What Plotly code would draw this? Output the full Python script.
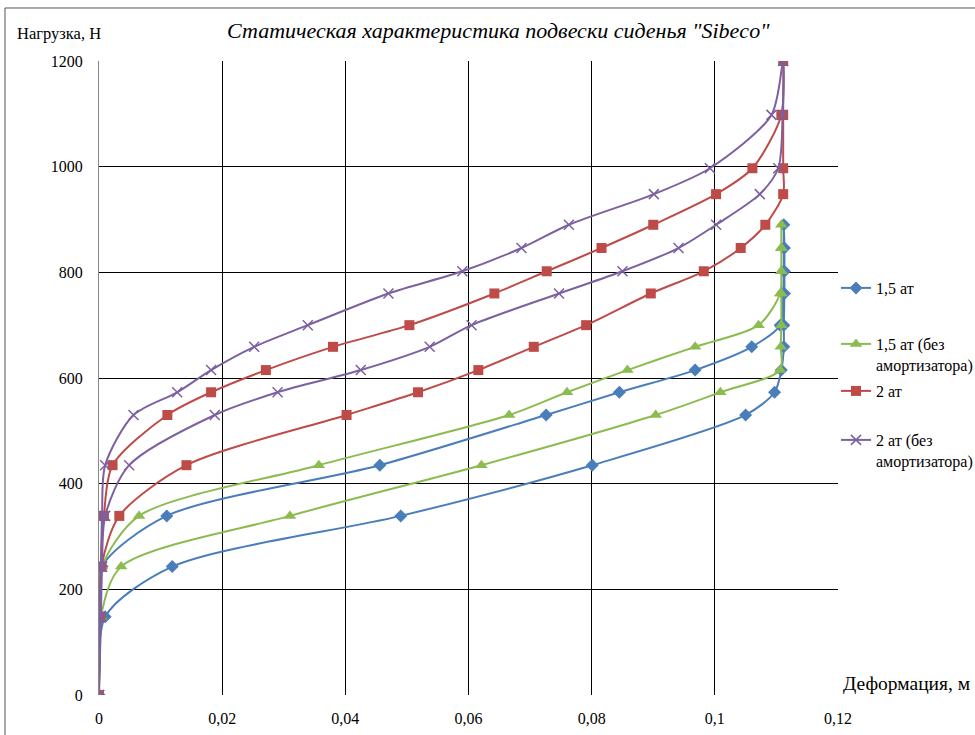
import plotly.graph_objects as go

# Loads (N) along each loop: up the left branch, then down the right branch
loads_15_up = [0, 148, 243, 339, 435, 530, 573, 615, 659, 700, 760, 802, 846, 890]
loads_15_down = [846, 802, 760, 700, 659, 615, 573, 530, 435, 339, 243, 148, 0]
loads_2_up = [0, 148, 243, 339, 435, 530, 573, 615, 659, 700, 760, 802, 846, 890, 948, 997, 1098, 1200]
loads_2_down = [1098, 997, 948, 890, 846, 802, 760, 700, 659, 615, 573, 530, 435, 339, 243, 148, 0]

# Deformation (m)
def_15_up = [0, 0.0003, 0.0005, 0.011, 0.0456, 0.0726, 0.0845, 0.0968, 0.106, 0.1106, 0.1111, 0.1112, 0.1112, 0.1112]
def_15_down = [0.1113, 0.1113, 0.1113, 0.1112, 0.1112, 0.1108, 0.1097, 0.105, 0.0801, 0.049, 0.0119, 0.001, 0]

def_15b_up = [0, 0.0002, 0.0005, 0.0065, 0.0357, 0.0666, 0.076, 0.0858, 0.0968, 0.1071, 0.1106, 0.1108, 0.1108, 0.1108]
def_15b_down = [0.1108, 0.1108, 0.1108, 0.1108, 0.1107, 0.1106, 0.1009, 0.0904, 0.0621, 0.031, 0.0036, 0.0003, 0]

def_2_up = [0, 0.0002, 0.0003, 0.0008, 0.0022, 0.0111, 0.0182, 0.0271, 0.038, 0.0504, 0.0642, 0.0727, 0.0816, 0.09, 0.1002, 0.1061, 0.1108, 0.1111]
def_2_down = [0.1111, 0.1111, 0.1111, 0.1082, 0.1042, 0.0982, 0.0896, 0.0791, 0.0706, 0.0616, 0.0518, 0.0402, 0.0142, 0.0033, 0.0004, 0.0002, 0]

def_2b_up = [0, 0.0001, 0.0003, 0.0005, 0.001, 0.0056, 0.0127, 0.0182, 0.0252, 0.0339, 0.047, 0.059, 0.0686, 0.0763, 0.0901, 0.0992, 0.1092, 0.1111]
def_2b_down = [0.111, 0.1103, 0.1073, 0.1002, 0.0941, 0.085, 0.0747, 0.0605, 0.0537, 0.0425, 0.029, 0.0188, 0.0049, 0.001, 0.0005, 0.0003, 0]

series_names = ["1,5 ат", "1,5 ат (без<br>амортизатора)", "2 ат", "2 ат (без<br>амортизатора)"]
x_ticks = [0, 0.02, 0.04, 0.06, 0.08, 0.1, 0.12]
x_tick_text = ["0", "0,02", "0,04", "0,06", "0,08", "0,1", "0,12"]
y_ticks = [0, 200, 400, 600, 800, 1000, 1200]
y_tick_text = ["0", "200", "400", "600", "800", "1000", "1200"]

series = [
    (def_15_up + def_15_down, loads_15_up + loads_15_down, "#4A7EBB", "diamond", 10, 0),
    (def_15b_up + def_15b_down, loads_15_up + loads_15_down, "#8CBB50", "triangle-up", 11, 0),
    (def_2_up + def_2_down, loads_2_up + loads_2_down, "#BE4B48", "square", 10, 0),
    (def_2b_up + def_2b_down, loads_2_up + loads_2_down, "#7D60A0", "x-thin", 10, 1.5),
]

serif = "Liberation Serif"
legend_keys = ["legend", "legend2", "legend3", "legend4"]
legend_tops = [271, 327, 374, 423]

fig = go.Figure()
for i, (xs, ys, col, sym, sz, lw) in enumerate(series):
    fig.add_trace(go.Scatter(
        x=xs, y=ys, name=series_names[i], mode="lines+markers",
        legend=legend_keys[i],
        line=dict(color=col, width=2, shape="spline", smoothing=0.8),
        marker=dict(symbol=sym, size=sz, color=col, line=dict(color=col, width=lw)),
    ))

legend_common = dict(xref="container", yref="container", x=836 / 975,
                     xanchor="left", yanchor="top", valign="top",
                     font=dict(family=serif, size=16, color="black"),
                     itemwidth=30, bgcolor="rgba(0,0,0,0)")
legend_layout = {}
for key, top in zip(legend_keys, legend_tops):
    legend_layout[key] = dict(legend_common, y=1 - top / 735)

fig.update_layout(
    width=975, height=735,
    margin=dict(l=99, r=137, t=61, b=40, autoexpand=False),
    paper_bgcolor="white", plot_bgcolor="white",
    font=dict(family=serif, size=15, color="black"),
    showlegend=True,
    xaxis=dict(range=[0, 0.12], tickvals=x_ticks, ticktext=x_tick_text,
               showgrid=True, gridcolor="black", gridwidth=1, zeroline=False,
               showline=False, ticks="", ticklabelstandoff=12, automargin=False,
               tickfont=dict(family=serif, size=16)),
    yaxis=dict(range=[0, 1200], tickvals=y_ticks, ticktext=y_tick_text,
               showgrid=True, gridcolor="black", gridwidth=1, zeroline=False,
               showline=True, linecolor="#888888", linewidth=1, ticks="",
               ticklabelstandoff=12, automargin=False,
               tickfont=dict(family=serif, size=16)),
    annotations=[
        dict(text="Статическая характеристика подвески сиденья \"Sibeco\"",
             xref="paper", yref="paper", x=0.541, y=1.025, xanchor="center", yanchor="bottom",
             showarrow=False, font=dict(family=serif, size=22, color="black", style="italic")),
        dict(text="Нагрузка, Н", xref="paper", yref="paper", x=-0.114, y=1.025,
             xanchor="left", yanchor="bottom", showarrow=False,
             font=dict(family=serif, size=16.5, color="black")),
        dict(text="Деформация, м", xref="paper", yref="paper", x=1.004, y=-0.002,
             xanchor="left", yanchor="bottom", showarrow=False,
             font=dict(family=serif, size=19.5, color="black")),
    ],
    shapes=[dict(type="rect", xref="paper", yref="paper",
                 x0=-0.1272, x1=1.2, y0=-0.08, y1=1.0836,
                 line=dict(color="#555555", width=1), layer="below")],
)
fig.update_layout(**legend_layout)

fig.write_html("out.html", config={"displayModeBar": False},
               post_script="document.body.style.margin='0';document.body.style.overflow='hidden';")
